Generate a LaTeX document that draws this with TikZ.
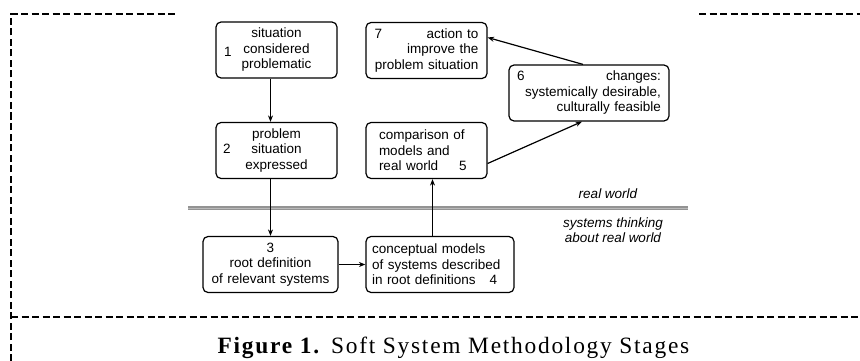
\documentclass[tikz,border=0pt]{standalone}
\usepackage{fontspec}
\setmainfont{Liberation Sans}
\newfontfamily\capfont[LetterSpace=7.5]{Liberation Serif}
\usetikzlibrary{arrows.meta}

\begin{document}
\begin{tikzpicture}[
  x=1pt, y=-1pt, line width=1.2pt,
  font=\fontsize{13.5}{15.5}\selectfont,
  stage/.style={
    draw, rounded corners=5pt, inner ysep=0pt, inner xsep=#1,
    minimum height=56pt
  },
  stage/.default=6pt,
  num/.style={inner sep=0pt, anchor=west},
  flow/.style={-{Stealth[length=6.5pt, width=5pt]}},
  frame/.style={line width=2.8pt, dash pattern=on 7pt off 3.5pt},
  side/.style={font=\fontsize{13.5}{15}\selectfont\itshape, align=center}
]
  \useasboundingbox (0,0) rectangle (860,361);

  % dashed frame, cut off on the right
  \draw[frame] (11,361) -- (11,14) -- (178,14);
  \draw[frame] (699,14) -- (860,14);
  \draw[frame] (11,317) -- (860,317);

  % border between real world and systems thinking
  \coordinate (sep-w) at (188,208);
  \coordinate (sep-e) at (688,208);
  \draw[draw=gray!85, line width=1.1pt, double=gray!55, double distance=.9pt] (sep-w) -- (sep-e);

  \node[side] (lbl-real) at (608,194) {real world};
  \node[side] (lbl-sys) at (613,230) {systems thinking\\about real world};

  \node[stage=10pt, text width=101pt, align=center] (stage-1) at (276.5,50)
  {situation\\considered\\problematic};
  \node[stage=10pt, text width=101pt, align=center] (stage-2) at (276.5,150.5)
  {problem\\situation\\expressed};
  \node[stage=6pt, text width=123pt, align=center] (stage-3) at (270.5,264.5)
  {3\\root definition\\of relevant systems};
  \node[stage=6pt, text width=136pt, align=left] (stage-4) at (440,264.5)
  {conceptual models\\of systems described\\in root definitions\hspace{14pt}4};
  \node[stage=13pt, text width=95pt, align=left] (stage-5) at (426.5,150.5)
  {comparison of\\models and\\real world\hspace{21pt}5};
  \node[stage=8pt, text width=144pt, align=right] (stage-6) at (589,93)
  {6\hfill changes:\\systemically desirable,\\culturally feasible};
  \node[stage=8.5pt, text width=104pt, align=right] (stage-7) at (426.5,50.5)
  {7\hfill action to\\improve the\\problem situation};

  \node[num] (num-1) at ([shift={(8,2)}]stage-1.west) {1};
  \node[num] (num-2) at ([shift={(7,-2)}]stage-2.west) {2};

  \draw[flow] (stage-1.south -| stage-3.north) -- (stage-2.north -| stage-3.north);
  \draw[flow] (stage-2.south -| stage-3.north) -- (stage-3.north);
  \draw[flow] (stage-3.east) -- (stage-4.west);
  \draw[flow] ([xshift=-7.5pt]stage-4.north) -- ([xshift=-7.5pt]stage-4.north |- stage-5.south);
  \draw[flow] ([yshift=-13pt]stage-5.east) -- ([xshift=-7pt]stage-6.south);
  \draw[flow] ([xshift=-6pt]stage-6.north) -- ([yshift=13pt]stage-7.east);

  \node[anchor=base west, inner sep=0pt, font=\capfont\fontsize{23.4}{27}\selectfont]
  (caption) at (217,353) {\textbf{Figure 1.} Soft System Methodology Stages};
\end{tikzpicture}
\end{document}
